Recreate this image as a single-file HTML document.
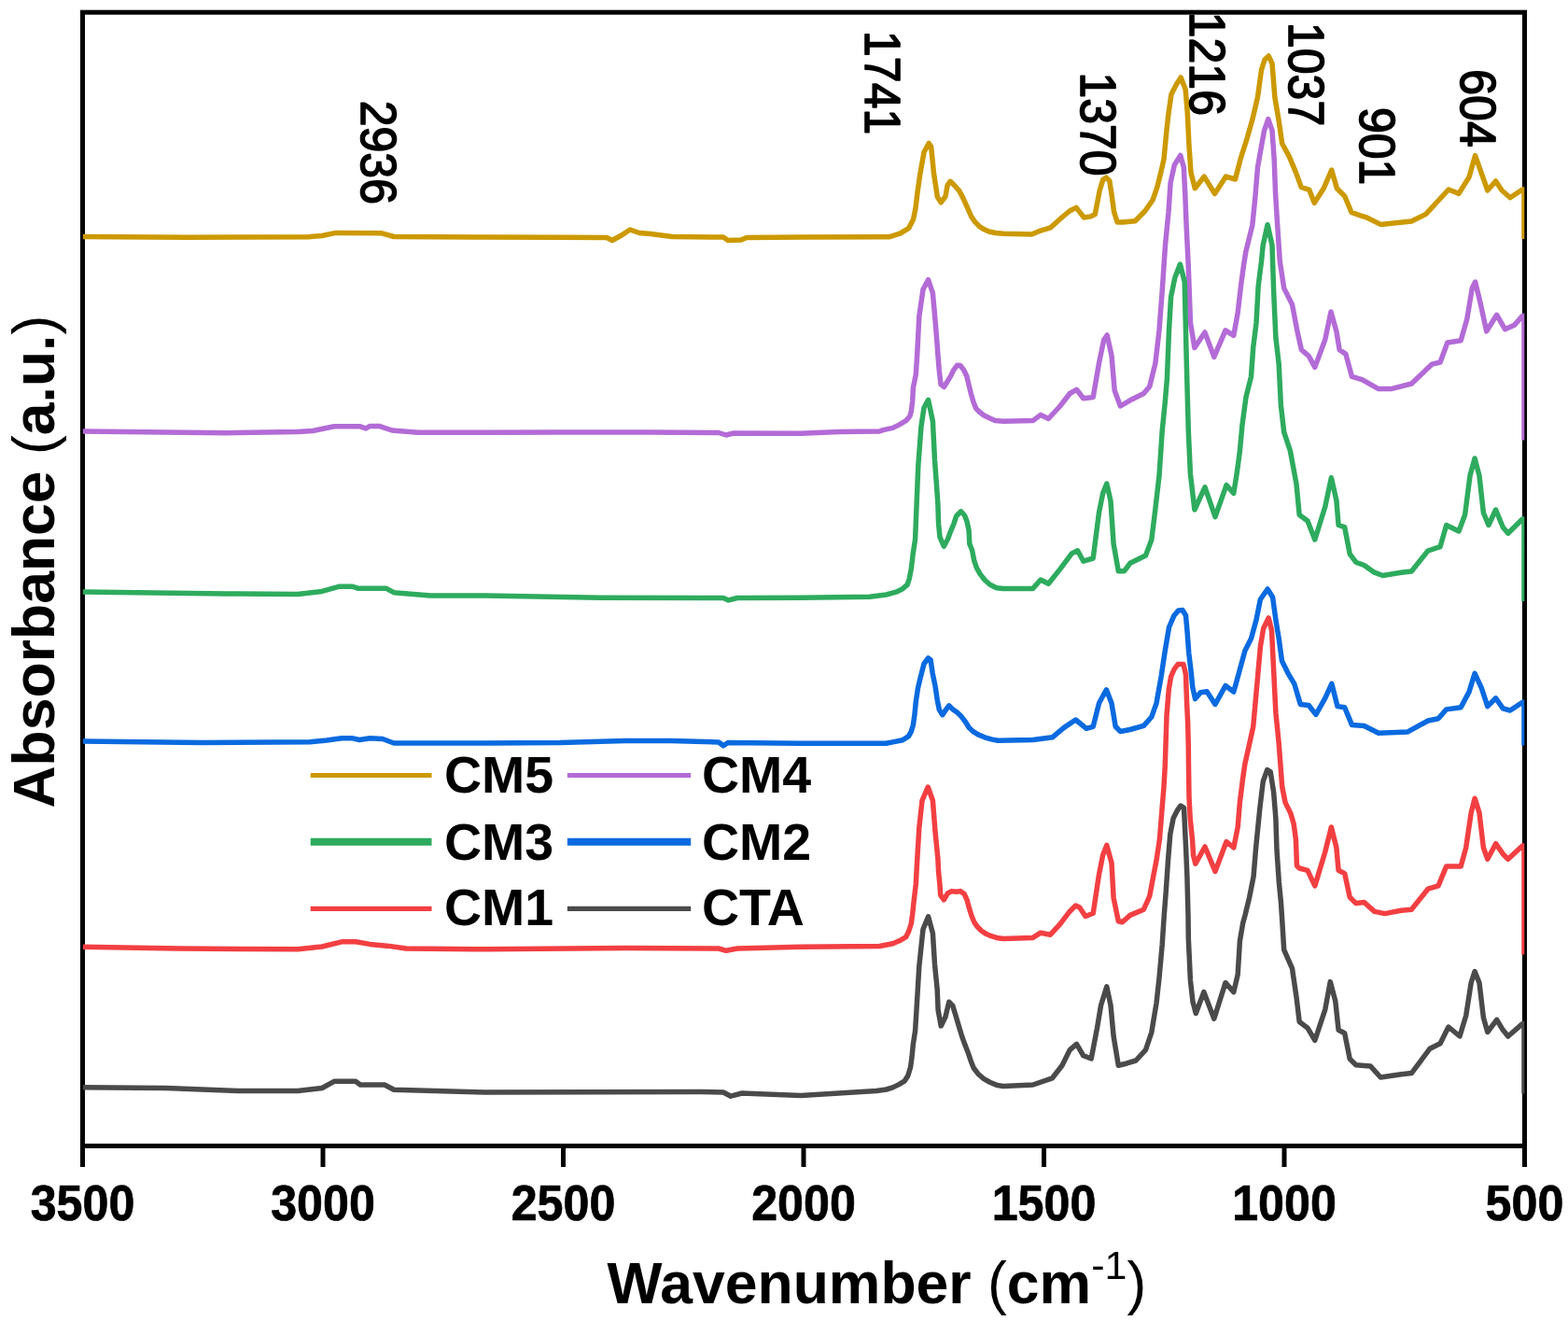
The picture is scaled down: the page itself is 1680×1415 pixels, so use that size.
<!DOCTYPE html>
<html><head><meta charset="utf-8"><title>FTIR spectra</title>
<style>html,body{margin:0;padding:0;background:#fff;}body{width:1680px;height:1415px;overflow:hidden;}svg{display:block;}</style>
</head><body>
<svg width="1680" height="1415" viewBox="0 0 1680 1415">
<rect width="1680" height="1415" fill="#fff"/>
<rect x="88.5" y="13.2" width="1545.0" height="1214.3" fill="none" stroke="#000" stroke-width="5"/>
<line x1="88.5" y1="1227.5" x2="88.5" y2="1250" stroke="#000" stroke-width="5"/>
<line x1="346.0" y1="1227.5" x2="346.0" y2="1250" stroke="#000" stroke-width="5"/>
<line x1="603.5" y1="1227.5" x2="603.5" y2="1250" stroke="#000" stroke-width="5"/>
<line x1="861.0" y1="1227.5" x2="861.0" y2="1250" stroke="#000" stroke-width="5"/>
<line x1="1118.5" y1="1227.5" x2="1118.5" y2="1250" stroke="#000" stroke-width="5"/>
<line x1="1376.0" y1="1227.5" x2="1376.0" y2="1250" stroke="#000" stroke-width="5"/>
<line x1="1633.5" y1="1227.5" x2="1633.5" y2="1250" stroke="#000" stroke-width="5"/>
<defs><clipPath id="pa"><rect x="88.8" y="13.2" width="1544.5" height="1214.3"/></clipPath></defs>
<g fill="none" stroke-width="5.5" stroke-linejoin="round" stroke-linecap="butt" clip-path="url(#pa)">
<polyline stroke="#CC9900" points="88.5,253.5 200.0,254.2 330.0,253.8 345.0,252.5 360.0,249.4 409.0,249.8 422.0,253.5 520.0,254.0 600.0,254.2 650.0,254.5 656.0,257.5 666.0,252.0 675.0,246.0 685.0,249.5 697.0,250.5 720.0,253.5 775.0,254.0 780.0,257.5 794.0,257.0 800.0,254.5 860.0,254.0 940.0,253.8 952.4,253.8 964.3,250.2 973.8,244.3 978.6,234.8 981.0,222.9 983.3,203.8 985.7,187.1 990.0,163.0 995.2,153.5 997.6,157.0 998.9,169.4 1000.4,185.0 1002.8,200.5 1004.3,210.7 1008.2,216.9 1012.9,210.7 1015.2,198.2 1018.3,194.3 1023.0,199.0 1027.7,204.4 1031.5,211.4 1034.7,218.4 1037.8,225.4 1040.9,232.4 1044.8,237.9 1049.4,242.5 1054.1,245.6 1059.5,248.0 1066.5,249.5 1075.0,250.3 1105.5,251.0 1113.8,247.4 1125.7,243.8 1137.6,233.0 1146.0,226.0 1153.1,222.4 1161.4,233.0 1168.6,231.9 1173.3,229.5 1178.1,204.5 1181.7,192.6 1185.2,190.2 1188.8,193.8 1191.2,209.3 1193.6,227.0 1197.1,237.9 1203.0,237.9 1216.2,236.7 1226.9,226.0 1235.2,214.0 1240.0,199.8 1243.6,185.5 1247.1,170.0 1249.9,140.0 1252.0,121.5 1255.0,101.0 1260.1,91.0 1265.2,83.0 1270.2,96.0 1272.3,121.5 1274.0,156.6 1276.0,184.9 1280.3,201.8 1290.2,189.1 1301.5,207.5 1313.5,189.1 1323.5,192.0 1329.0,170.7 1336.2,148.0 1341.8,128.3 1347.5,104.2 1351.5,75.0 1355.0,64.0 1359.2,60.0 1363.0,68.0 1365.9,104.2 1370.0,128.3 1373.7,153.7 1381.4,167.9 1388.5,184.9 1394.2,200.4 1402.7,203.3 1408.3,217.4 1418.2,201.8 1426.7,182.0 1432.4,201.8 1440.8,210.3 1447.9,227.3 1459.2,231.5 1463.8,232.7 1479.2,240.4 1512.3,237.0 1527.7,229.4 1552.0,203.0 1563.0,207.4 1574.0,189.8 1580.6,166.6 1587.2,185.4 1593.8,204.0 1602.6,194.0 1609.2,204.0 1618.0,211.8 1631.2,203.0 1633.0,203.0 1633.0,256.0"/>
<polyline stroke="#B36BD6" points="88.5,462.0 242.0,463.7 319.0,462.4 335.0,461.5 358.0,456.8 386.0,456.8 392.0,459.0 396.0,456.6 407.0,456.6 420.0,461.0 448.0,463.2 520.0,463.2 600.0,462.9 697.0,462.9 770.0,463.5 778.0,466.0 786.0,464.0 858.0,464.2 900.0,462.5 942.4,462.0 946.0,460.6 956.5,458.4 963.6,454.9 970.7,450.7 974.9,445.7 976.3,440.8 977.7,429.5 978.4,415.3 981.3,401.2 982.7,380.0 984.8,339.0 989.0,310.0 994.6,299.6 999.4,314.0 1002.0,343.0 1004.2,370.0 1004.9,380.0 1006.3,397.0 1008.0,411.6 1011.4,414.5 1015.3,408.2 1018.7,402.6 1022.1,395.8 1025.5,391.3 1028.9,391.6 1032.3,395.8 1035.7,402.6 1037.9,411.6 1040.2,421.2 1043.0,430.8 1045.8,437.6 1049.2,441.0 1054.3,445.0 1060.0,447.8 1066.2,450.6 1075.0,451.2 1106.7,450.6 1115.0,444.4 1123.3,448.5 1135.8,435.0 1146.2,421.5 1153.5,417.3 1160.8,426.7 1171.2,425.6 1177.5,389.0 1182.7,364.0 1186.2,359.0 1191.0,380.8 1194.2,418.3 1200.4,435.0 1210.8,428.8 1225.4,421.5 1231.7,414.0 1237.9,389.2 1242.0,353.8 1245.2,312.0 1248.5,262.7 1252.0,227.3 1254.1,196.0 1258.4,176.4 1264.8,166.5 1268.3,179.2 1269.7,206.0 1271.1,241.4 1273.2,283.9 1275.5,346.0 1279.9,372.5 1290.9,356.0 1300.8,382.4 1313.0,353.8 1321.8,359.3 1326.2,335.0 1329.5,306.4 1332.8,282.2 1334.8,269.7 1341.8,241.4 1344.7,213.2 1347.5,179.2 1351.0,159.4 1354.6,139.6 1358.8,127.6 1363.0,139.6 1365.2,170.7 1366.6,207.5 1368.7,241.4 1371.3,280.0 1375.7,308.6 1384.5,326.3 1390.0,355.0 1394.4,374.7 1402.2,381.3 1408.8,393.4 1419.8,363.7 1426.0,334.0 1431.9,354.9 1435.2,374.7 1441.8,379.1 1448.4,403.3 1459.4,406.7 1477.0,416.6 1490.3,416.6 1512.3,411.0 1534.3,390.1 1543.1,388.0 1550.8,367.0 1565.2,364.8 1571.8,341.7 1577.3,308.6 1580.6,302.0 1586.0,324.0 1592.7,354.9 1598.2,346.0 1603.7,337.3 1612.5,352.7 1622.4,348.3 1631.2,338.4 1633.0,338.4 1633.0,471.6"/>
<polyline stroke="#2EAB5E" points="88.5,634.0 242.0,636.0 319.0,636.5 345.0,633.4 363.0,628.3 378.0,628.3 384.0,630.3 414.0,630.3 422.0,634.7 461.0,638.0 520.0,638.0 644.0,640.2 775.0,640.5 780.5,642.9 790.0,640.5 858.0,640.2 931.8,639.2 949.5,637.0 960.1,634.2 967.1,630.7 972.1,626.4 974.2,620.1 976.3,609.5 978.4,591.8 980.6,577.7 981.5,555.0 983.8,499.0 986.9,457.5 990.0,436.7 994.6,428.3 999.4,451.2 1001.5,493.0 1003.5,520.0 1004.9,540.0 1005.6,561.2 1007.0,575.3 1011.3,585.2 1015.5,577.5 1018.3,569.7 1021.9,561.2 1024.7,552.7 1029.6,547.8 1033.5,552.0 1036.0,558.4 1038.1,568.3 1038.8,582.4 1041.6,589.5 1043.8,600.8 1046.6,608.6 1050.1,614.9 1055.1,621.3 1060.7,626.2 1067.8,629.8 1075.0,630.5 1106.7,630.4 1115.0,621.0 1123.3,625.2 1135.8,609.6 1148.3,592.9 1154.6,589.8 1160.8,601.2 1171.2,598.0 1177.5,549.0 1181.7,528.3 1185.8,518.0 1190.0,536.7 1193.1,582.5 1198.3,611.7 1204.6,611.7 1210.8,603.3 1227.5,595.0 1233.8,578.3 1237.9,545.0 1242.0,509.6 1245.2,461.7 1248.3,430.4 1250.4,405.8 1252.5,353.8 1254.6,318.0 1258.8,297.5 1264.4,283.0 1269.2,301.7 1271.2,385.0 1273.3,461.7 1275.4,507.5 1279.9,546.0 1291.0,521.8 1302.0,553.7 1314.0,519.6 1321.8,528.4 1325.5,505.0 1328.4,483.2 1331.0,455.0 1335.0,425.4 1340.5,403.3 1342.7,372.5 1346.0,346.0 1348.2,306.4 1351.5,280.0 1353.2,262.7 1358.1,240.7 1363.0,262.7 1364.7,313.0 1366.9,361.5 1370.2,390.0 1372.4,434.0 1375.7,462.8 1382.3,482.6 1384.5,494.2 1389.0,518.5 1392.2,551.5 1401.0,558.0 1408.8,578.0 1419.8,542.7 1426.4,511.8 1431.9,536.0 1434.1,562.5 1440.7,564.7 1446.2,593.3 1452.8,602.2 1461.6,605.5 1472.6,613.2 1481.5,616.5 1501.3,613.2 1512.3,612.0 1529.9,590.0 1543.1,585.6 1549.7,562.5 1563.0,569.0 1569.6,551.5 1575.0,509.6 1580.1,491.0 1585.0,509.6 1589.4,549.3 1594.9,562.5 1602.6,546.0 1610.3,564.7 1615.8,571.3 1631.2,556.0 1633.0,556.0 1633.0,644.0"/>
<polyline stroke="#0A6ADF" points="88.5,794.0 216.5,795.5 332.0,794.7 350.0,793.0 366.0,790.8 378.0,790.8 385.0,792.5 396.5,790.8 410.0,791.5 422.0,796.0 520.0,796.0 600.0,795.5 670.0,793.5 719.0,793.5 770.0,795.0 775.0,798.8 780.0,795.5 858.0,796.2 949.5,796.3 956.5,794.9 967.1,792.8 973.5,788.6 976.3,783.6 978.4,776.5 979.9,765.9 981.3,751.8 983.4,737.7 986.2,725.7 990.0,711.0 994.5,705.0 997.1,707.0 999.2,721.2 1002.1,735.3 1004.2,749.5 1006.3,760.1 1009.8,765.7 1014.1,759.4 1016.9,755.8 1021.1,760.1 1026.1,763.6 1030.3,767.8 1034.6,773.5 1038.1,779.2 1042.4,783.4 1048.0,786.9 1055.1,789.8 1062.1,791.9 1069.2,793.3 1106.7,792.5 1127.5,789.8 1140.0,779.4 1152.5,771.0 1164.0,780.4 1171.2,778.3 1177.5,753.3 1185.4,738.8 1191.0,753.3 1195.2,778.3 1200.4,783.5 1210.8,781.5 1225.4,777.3 1233.8,768.0 1239.0,753.3 1244.2,724.2 1248.3,697.0 1252.5,672.0 1258.0,659.2 1262.5,654.1 1267.1,653.6 1270.5,659.2 1272.1,677.3 1273.8,700.0 1276.1,719.2 1277.8,736.2 1280.6,748.6 1286.3,741.8 1293.1,740.7 1302.0,754.4 1313.0,734.5 1321.8,741.0 1327.3,721.3 1333.9,697.0 1340.5,683.9 1346.0,664.0 1350.4,642.0 1358.1,631.0 1363.6,639.8 1366.9,664.0 1370.2,683.9 1373.5,708.1 1380.1,721.3 1386.7,732.3 1393.3,754.4 1402.2,755.5 1409.9,765.4 1419.8,747.8 1426.8,732.3 1433.0,756.6 1440.7,757.7 1448.4,776.4 1461.6,777.5 1477.0,785.2 1507.9,784.1 1530.0,772.0 1541.0,769.8 1549.7,759.9 1565.2,757.7 1574.0,741.1 1580.1,721.3 1587.2,736.7 1593.8,756.6 1602.6,747.8 1610.3,758.8 1618.0,761.0 1631.2,752.2 1633.0,752.2 1633.0,798.4"/>
<polyline stroke="#F23F42" points="88.5,1014.2 191.0,1016.0 319.0,1016.8 345.0,1014.0 366.0,1008.8 381.0,1008.8 396.5,1011.4 417.0,1013.4 435.0,1016.0 520.0,1016.8 670.7,1015.4 770.0,1016.0 778.0,1018.3 790.0,1016.0 858.0,1014.3 942.4,1013.5 956.5,1010.7 963.6,1007.8 970.7,1003.6 973.5,998.0 976.3,989.5 977.7,978.9 979.2,964.7 981.3,947.0 982.5,925.0 984.8,886.7 988.0,857.5 994.2,843.0 999.4,857.5 1002.0,890.8 1004.9,920.0 1005.6,934.1 1007.0,948.3 1007.7,958.9 1011.3,963.8 1015.5,956.7 1019.7,954.6 1024.7,955.3 1028.9,954.6 1033.2,957.5 1036.0,963.8 1038.1,971.6 1040.9,980.8 1043.8,987.8 1047.3,992.8 1051.5,997.0 1055.8,999.9 1062.1,1002.7 1069.2,1004.8 1075.0,1005.5 1106.7,1004.4 1115.0,999.2 1125.4,1001.2 1135.8,989.8 1146.2,976.2 1152.5,970.0 1156.7,972.0 1163.0,981.5 1171.2,978.3 1177.5,936.7 1181.7,915.8 1185.8,905.4 1191.0,924.2 1193.1,961.7 1198.3,986.7 1202.5,987.7 1210.8,980.4 1225.4,974.2 1231.7,960.0 1235.7,938.8 1239.0,921.8 1242.4,899.2 1244.7,870.9 1247.0,842.6 1248.3,820.0 1250.0,766.7 1252.3,738.4 1254.6,724.8 1258.0,717.0 1262.0,711.5 1268.0,711.5 1270.5,722.6 1271.6,753.1 1272.7,775.7 1273.3,800.0 1273.5,820.0 1274.0,853.9 1275.2,876.6 1277.5,899.2 1278.6,916.2 1280.9,925.2 1291.0,907.0 1302.0,933.4 1314.0,901.5 1321.8,908.0 1326.2,886.0 1328.4,859.6 1331.7,833.2 1333.9,818.2 1342.7,778.6 1347.1,730.0 1350.4,692.7 1353.7,672.9 1359.2,661.9 1362.5,675.0 1364.7,719.0 1366.9,763.2 1370.2,796.2 1372.0,820.0 1373.7,842.6 1377.1,859.6 1382.7,870.9 1386.1,882.2 1388.4,899.2 1389.5,927.5 1392.2,930.0 1401.0,932.3 1408.8,948.9 1419.8,912.5 1426.4,886.0 1431.9,908.0 1434.1,932.3 1440.7,935.6 1446.2,961.0 1452.8,967.6 1461.6,966.5 1472.6,976.4 1483.7,978.6 1501.3,975.3 1512.3,974.2 1530.0,952.2 1541.0,948.9 1549.7,927.9 1565.2,927.9 1570.7,908.0 1576.2,870.7 1580.1,855.2 1585.0,870.7 1589.4,908.0 1593.8,920.2 1602.6,903.7 1610.3,914.7 1615.8,920.2 1631.2,905.9 1633.0,905.9 1633.0,1022.6"/>
<polyline stroke="#4A4A4A" points="88.5,1164.7 178.0,1165.5 255.0,1168.6 319.0,1168.6 345.0,1165.5 358.0,1158.3 381.0,1158.3 386.0,1162.0 412.0,1162.0 422.0,1167.3 520.0,1170.0 751.0,1169.6 775.0,1170.0 783.0,1174.2 795.0,1171.0 858.0,1173.4 938.9,1168.4 949.5,1167.0 956.5,1164.9 963.6,1161.4 969.3,1157.8 972.8,1152.2 975.6,1143.0 977.0,1132.4 978.4,1118.3 980.6,1104.1 982.3,1076.7 984.8,1035.0 989.0,995.4 994.6,981.9 999.4,999.6 1001.5,1032.9 1004.2,1060.0 1005.1,1081.8 1008.2,1098.9 1012.9,1089.5 1016.8,1073.2 1020.7,1077.1 1023.8,1087.2 1027.7,1100.4 1030.8,1110.5 1033.9,1119.1 1037.0,1126.9 1040.1,1136.2 1043.2,1144.0 1047.9,1150.2 1054.1,1155.6 1061.1,1159.5 1068.9,1162.6 1075.0,1163.4 1106.7,1162.0 1127.5,1154.8 1138.0,1141.2 1146.2,1124.6 1153.5,1118.3 1160.8,1130.8 1169.2,1134.0 1175.4,1101.7 1179.6,1076.7 1185.8,1056.9 1190.0,1076.7 1193.1,1110.0 1198.3,1141.2 1206.7,1139.2 1217.0,1136.0 1227.5,1124.6 1233.8,1105.8 1239.0,1074.6 1242.0,1047.5 1245.2,1012.0 1247.3,980.0 1249.2,955.7 1251.5,921.8 1253.8,893.5 1257.1,876.6 1261.7,867.5 1265.1,863.0 1268.5,865.2 1269.6,887.9 1270.7,910.5 1271.9,938.8 1273.0,980.0 1273.3,1005.0 1275.4,1050.0 1278.0,1073.0 1281.3,1085.5 1289.8,1062.6 1300.8,1091.2 1313.0,1052.7 1321.8,1062.6 1326.2,1043.9 1328.4,1008.0 1331.7,988.8 1334.1,980.0 1338.6,961.4 1343.1,938.8 1345.4,910.5 1347.6,887.9 1349.9,865.2 1353.3,837.0 1357.8,824.5 1361.2,826.8 1364.6,848.3 1366.9,876.6 1368.0,910.5 1370.3,944.4 1372.5,967.1 1374.0,990.0 1375.7,1017.4 1384.5,1037.3 1389.0,1068.0 1392.2,1094.5 1401.0,1101.1 1408.8,1114.4 1419.8,1081.3 1425.3,1051.6 1430.8,1072.5 1434.1,1103.3 1440.7,1106.7 1446.2,1134.2 1452.8,1140.8 1468.2,1141.9 1479.2,1154.0 1501.3,1150.7 1512.3,1149.6 1532.1,1123.2 1543.1,1117.7 1551.9,1100.0 1564.0,1110.0 1570.7,1088.0 1576.2,1052.7 1580.1,1040.6 1585.0,1052.7 1589.4,1090.0 1593.8,1105.5 1603.7,1092.3 1610.3,1103.3 1615.8,1110.0 1631.2,1096.7 1633.0,1096.7 1633.0,1171.6"/>
</g>
<g font-family="'Liberation Sans', Arial, sans-serif" font-weight="bold" font-size="51.5" text-anchor="middle" fill="#000" stroke="#000" stroke-width="0.7">
<text transform="translate(88.5,1307.2) scale(0.975,1.033)">3500</text>
<text transform="translate(346.0,1307.2) scale(0.975,1.033)">3000</text>
<text transform="translate(603.5,1307.2) scale(0.975,1.033)">2500</text>
<text transform="translate(861.0,1307.2) scale(0.975,1.033)">2000</text>
<text transform="translate(1118.5,1307.2) scale(0.975,1.033)">1500</text>
<text transform="translate(1376.0,1307.2) scale(0.975,1.033)">1000</text>
<text transform="translate(1633.5,1307.2) scale(0.975,1.033)">500</text>
</g>
<text font-family="'Liberation Sans', Arial, sans-serif" font-weight="bold" font-size="62.5" x="650.5" y="1395.5" fill="#000">Wavenumber <tspan font-weight="normal">(</tspan>cm<tspan font-size="43" font-weight="normal" dy="-26">-1</tspan><tspan dy="26" font-weight="normal">)</tspan></text>
<text font-family="'Liberation Sans', Arial, sans-serif" font-weight="bold" font-size="62.5" transform="translate(57.7,865.6) rotate(-90)" fill="#000">Absorbance <tspan font-weight="normal">(</tspan>a.u.<tspan font-weight="normal">)</tspan></text>
<g font-family="'Liberation Sans', Arial, sans-serif" font-weight="normal" font-size="50" fill="#000" stroke="#000" stroke-width="1.5" stroke-linejoin="round">
<text transform="translate(387.2,107.75) rotate(90) scale(1,1.08)">2936</text>
<text transform="translate(927.3,33.05) rotate(90) scale(1,1.08)">1741</text>
<text transform="translate(1158.0,77.4) rotate(90) scale(1,1.08)">1370</text>
<text transform="translate(1275.1,12.75) rotate(90) scale(1,1.08)">1216</text>
<text transform="translate(1381.4,24.0) rotate(90) scale(1,1.08)">1037</text>
<text transform="translate(1457.0,114.95) rotate(90) scale(1,1.08)">901</text>
<text transform="translate(1565.0,74.3) rotate(90) scale(1,1.08)">604</text>
</g>
<g font-family="'Liberation Sans', Arial, sans-serif" font-weight="bold" font-size="55.5" fill="#000">
<line x1="332.7" y1="830.4" x2="462.5" y2="830.4" stroke="#CC9900" stroke-width="5"/>
<text x="476" y="849">CM5</text>
<line x1="607.9" y1="830.4" x2="740.2" y2="830.4" stroke="#B36BD6" stroke-width="5"/>
<text x="752" y="849">CM4</text>
<line x1="332.7" y1="901.8" x2="462.5" y2="901.8" stroke="#2EAB5E" stroke-width="7.9"/>
<text x="476" y="920.7">CM3</text>
<line x1="607.9" y1="901.8" x2="740.2" y2="901.8" stroke="#0A6ADF" stroke-width="7.9"/>
<text x="752" y="920.7">CM2</text>
<line x1="332.7" y1="973.3" x2="462.5" y2="973.3" stroke="#F23F42" stroke-width="5.2"/>
<text x="476" y="991.2">CM1</text>
<line x1="607.9" y1="973.3" x2="740.2" y2="973.3" stroke="#4A4A4A" stroke-width="5.2"/>
<text x="752" y="991.2">CTA</text>
</g>
</svg>
</body></html>
